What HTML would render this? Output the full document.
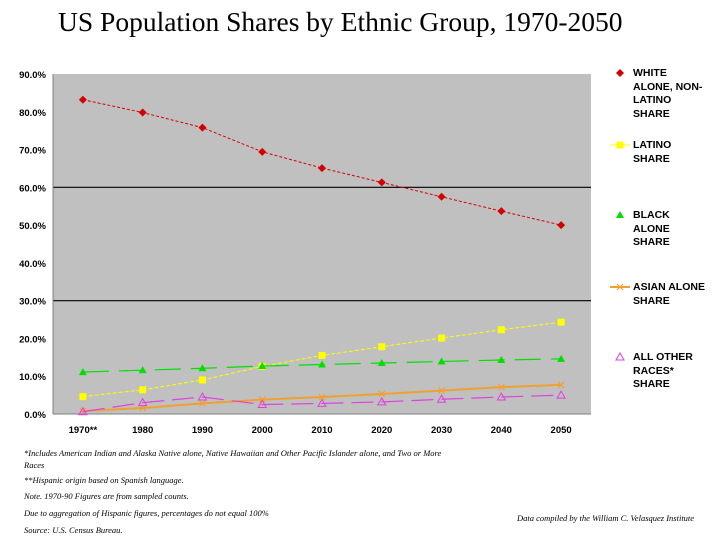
<!DOCTYPE html>
<html><head><meta charset="utf-8"><style>
body{margin:0;background:#fff;width:720px;height:540px;overflow:hidden;position:relative;font-family:"Liberation Sans",sans-serif}
#title{position:absolute;left:58px;top:6px;font:27.5px "Liberation Serif",serif;color:#000;white-space:nowrap}
.leg{position:absolute;left:633px;font-weight:bold;font-size:10.5px;line-height:13.5px;color:#000}
.note{position:absolute;font:italic 8.5px "Liberation Serif",serif;color:#000;white-space:nowrap}
</style></head><body>
<div id="title">US Population Shares by Ethnic Group, 1970-2050</div>
<svg id="chart" width="720" height="540" style="position:absolute;left:0;top:0"></svg>
<div class="leg" style="top:67px">WHITE<br>ALONE, NON-<br>LATINO<br>SHARE</div>
<div class="leg" style="top:139px">LATINO<br>SHARE</div>
<div class="leg" style="top:209px">BLACK<br>ALONE<br>SHARE</div>
<div class="leg" style="top:281px">ASIAN ALONE<br>SHARE</div>
<div class="leg" style="top:351px">ALL OTHER<br>RACES*<br>SHARE</div>
<div class="note" style="left:24px;top:447px;line-height:12px">*Includes American Indian and Alaska Native alone, Native Hawaiian and Other Pacific Islander alone, and Two or More<br>Races</div>
<div class="note" style="left:24px;top:475px">**Hispanic origin based on Spanish language.</div>
<div class="note" style="left:24px;top:491px">Note. 1970-90 Figures are from sampled counts.</div>
<div class="note" style="left:24px;top:508px">Due to aggregation of Hispanic figures, percentages do not equal 100%</div>
<div class="note" style="left:24px;top:525px">Source: U.S. Census Bureau.</div>
<div class="note" style="left:517px;top:513px">Data compiled by the William C. Velasquez Institute</div>
<script>
const categories=["1970**","1980","1990","2000","2010","2020","2030","2040","2050"];
const white=[83.2,79.8,75.8,69.4,65.1,61.3,57.5,53.7,50.0];
const latino=[4.6,6.4,9.0,12.6,15.5,17.8,20.1,22.3,24.3];
const black=[11.1,11.6,12.1,12.7,13.1,13.5,13.9,14.3,14.6];
const asian=[0.8,1.6,2.8,3.8,4.5,5.3,6.2,7.1,7.7];
const other=[0.6,3.0,4.5,2.5,2.8,3.2,3.9,4.5,5.0];
const yTicks=[0,10,20,30,40,50,60,70,80,90];
const NS="http://www.w3.org/2000/svg";
const svg=document.getElementById('chart');
const L=53,R=591,T=74,B=414;
const bw=(R-L)/categories.length;
const xs=i=>L+bw*(i+0.5);
const ys=v=>B-(v/90)*(B-T);
function mk(tag,a,p){const e=document.createElementNS(NS,tag);for(const k in a)e.setAttribute(k,a[k]);(p||svg).appendChild(e);return e;}
let bg=mk('rect',{x:L,y:T,width:R-L,height:B-T,fill:'#c0c0c0'});


[30,60].forEach(v=>{const g=mk('line',{x1:L,x2:R,y1:ys(v),y2:ys(v),stroke:'#000','stroke-width':1.2});

});
mk('line',{x1:L,x2:L,y1:T,y2:B,stroke:'#808080'});
mk('line',{x1:L,x2:R,y1:B,y2:B,stroke:'#808080'});
yTicks.forEach(v=>{const t=mk('text',{x:46,y:ys(v)+4,'text-anchor':'end','font-size':9.5,'font-weight':'bold','font-family':'Liberation Sans,sans-serif'});t.textContent=v.toFixed(1)+'%';

});
categories.forEach((c,i)=>{const t=mk('text',{x:xs(i),y:433,'text-anchor':'middle','font-size':9.5,'font-weight':'bold','font-family':'Liberation Sans,sans-serif'});t.textContent=c;

});
function marker(type,x,y,col){
 if(type==='diamond')return mk('polygon',{points:`${x},${y-4} ${x+4},${y} ${x},${y+4} ${x-4},${y}`,fill:col});
 if(type==='square')return mk('rect',{x:x-3.5,y:y-3.5,width:7,height:7,fill:col});
 if(type==='tri')return mk('polygon',{points:`${x},${y-4} ${x+4},${y+3} ${x-4},${y+3}`,fill:col});
 if(type==='otri')return mk('polygon',{points:`${x},${y-4} ${x+4},${y+3} ${x-4},${y+3}`,fill:'none',stroke:col});
 if(type==='x'){const g=mk('g',{});mk('path',{d:`M${x-3},${y-3}L${x+3},${y+3}M${x+3},${y-3}L${x-3},${y+3}`,stroke:col,'stroke-width':1.2},g);return g;}
}
const series=[
 {name:'white',d:white,col:'#d40000',dash:'3,2',w:1,m:'diamond',ly:73},
 {name:'latino',d:latino,col:'#ffff00',dash:'4,2',w:1,m:'square',ly:145},
 {name:'black',d:black,col:'#00e000',dash:'26,10',w:1.2,m:'tri',ly:215},
 {name:'asian',d:asian,col:'#f0a030',dash:'',w:2,m:'x',ly:287},
 {name:'other',d:other,col:'#e040e0',dash:'22,8',w:1.2,m:'otri',ly:357}];
series.forEach(s=>{
 const p=mk('polyline',{points:s.d.map((v,i)=>xs(i)+','+ys(v)).join(' '),fill:'none',stroke:s.col,'stroke-width':s.w,'stroke-dasharray':s.dash});
 
 
 s.d.forEach((v,i)=>{const m=marker(s.m,xs(i),ys(v),s.col);
 
 });
 if(s.name==='latino'||s.name==='asian')mk('line',{x1:610,x2:630,y1:s.ly,y2:s.ly,stroke:s.col,'stroke-width':s.w});
 marker(s.m,620,s.ly,s.col);
});
</script>
</body></html>
